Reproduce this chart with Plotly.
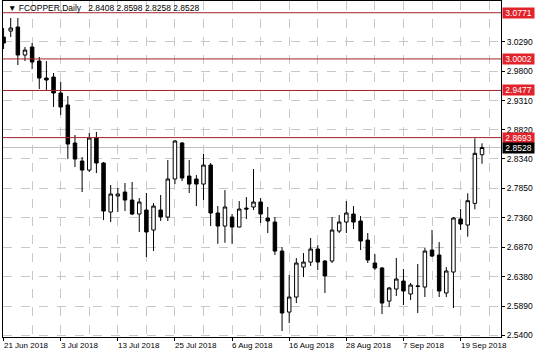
import plotly.graph_objects as go
import pandas as pd

# ---- data ----
dates = pd.bdate_range("2018-06-21", periods=68).strftime("%d %b %Y").tolist()

opens = [3.0366, 3.0466, 3.0533, 3.0067, 3.0200, 2.9967, 2.9684, 2.9701, 2.9435, 2.9235,
         2.8603, 2.8303, 2.8153, 2.8686, 2.8270, 2.7454, 2.7721, 2.7787, 2.7654, 2.7421,
         2.7488, 2.7155, 2.7488, 2.7371, 2.8004, 2.8603, 2.8053, 2.8004, 2.7920, 2.8236,
         2.7438, 2.7221, 2.7371, 2.7205, 2.7520, 2.7538, 2.7621, 2.7355, 2.7288, 2.6805,
         2.5790, 2.6040, 2.6539, 2.6622, 2.6839, 2.6639, 2.6639, 2.7138, 2.7288, 2.7421,
         2.7305, 2.6988, 2.6606, 2.6523, 2.5973, 2.6173, 2.6306, 2.6090, 2.6215, 2.6206,
         2.6822, 2.6739, 2.6107, 2.6456, 2.7338, 2.7238, 2.7599, 2.8408]
highs = [3.0516, 3.0683, 3.0683, 3.0200, 3.0267, 3.0034, 2.9967, 2.9768, 2.9618, 2.9385,
         2.8736, 2.8370, 2.8769, 2.8786, 2.8286, 2.7904, 2.7854, 2.7937, 2.7954, 2.7687,
         2.7771, 2.7604, 2.7737, 2.8320, 2.8653, 2.8619, 2.8320, 2.8070, 2.8419, 2.8270,
         2.7554, 2.7820, 2.7421, 2.7637, 2.7704, 2.8170, 2.7687, 2.7538, 2.7371, 2.6872,
         2.6406, 2.6689, 2.6772, 2.7022, 2.6905, 2.6656, 2.7371, 2.7404, 2.7637, 2.7554,
         2.7388, 2.7105, 2.6755, 2.6539, 2.6206, 2.6689, 2.6506, 2.6273, 2.6589, 2.6855,
         2.7155, 2.6955, 2.6539, 2.7371, 2.7504, 2.7766, 2.8681, 2.8598]
lows = [3.0167, 3.0366, 2.9901, 2.9967, 2.9834, 2.9501, 2.9485, 2.9202, 2.9069, 2.8336,
        2.8203, 2.7787, 2.8120, 2.8103, 2.7321, 2.7288, 2.7454, 2.7471, 2.7404, 2.7122,
        2.6706, 2.6805, 2.7305, 2.7305, 2.7920, 2.7970, 2.7771, 2.7554, 2.7654, 2.7221,
        2.6926, 2.6943, 2.6926, 2.7200, 2.7338, 2.7488, 2.7271, 2.7105, 2.6739, 2.5474,
        2.5607, 2.5940, 2.6373, 2.6556, 2.6489, 2.6107, 2.6606, 2.7105, 2.7105, 2.7172,
        2.6822, 2.6606, 2.6489, 2.5757, 2.5874, 2.6057, 2.5907, 2.5990, 2.5774, 2.6040,
        2.6706, 2.6040, 2.6040, 2.5857, 2.7155, 2.7044, 2.7500, 2.8258]
closes = [3.0266, 3.0516, 3.0067, 3.0150, 2.9950, 2.9684, 2.9651, 2.9435, 2.9202, 2.8586,
          2.8336, 2.8153, 2.8686, 2.8270, 2.7471, 2.7754, 2.7754, 2.7654, 2.7421, 2.7621,
          2.7122, 2.7554, 2.7371, 2.8004, 2.8636, 2.8020, 2.7920, 2.7920, 2.8236, 2.7438,
          2.7221, 2.7538, 2.7205, 2.7504, 2.7504, 2.7621, 2.7421, 2.7305, 2.6805, 2.5774,
          2.6040, 2.6606, 2.6622, 2.6839, 2.6622, 2.6390, 2.7155, 2.7288, 2.7438, 2.7288,
          2.6972, 2.6656, 2.6523, 2.5940, 2.6190, 2.6340, 2.6140, 2.6240, 2.6223, 2.6805,
          2.6722, 2.6140, 2.6473, 2.7355, 2.7255, 2.7643, 2.8431, 2.8528]

level_prices = [3.0771, 3.0002, 2.9477, 2.8693]
bid_price = 2.8528

ytick_vals = [3.0290, 2.9800, 2.9310, 2.8820, 2.8340, 2.7850, 2.7360, 2.6870, 2.6380, 2.5890, 2.5400]
ytick_text = ["3.0290", "2.9800", "2.9310", "2.8820", "2.8340", "2.7850", "2.7360", "2.6870", "2.6380", "2.5890", "2.5400"]
xtick_text = ["21 Jun 2018", "3 Jul 2018", "13 Jul 2018", "25 Jul 2018", "6 Aug 2018",
              "16 Aug 2018", "28 Aug 2018", "7 Sep 2018", "19 Sep 2018"]

title_text = "\u25bc FCOPPER,Daily&nbsp;&nbsp; 2.8408 2.8598 2.8258 2.8528"

# ---- figure ----
idx = list(range(len(dates)))
xtick_idx = [i for i in idx if i % 8 == 0]
minor_idx = [i for i in idx if i % 8 == 4] + [68]

FONT = "Liberation Sans, DejaVu Sans, sans-serif"

fig = go.Figure(go.Candlestick(
    x=idx, open=opens, high=highs, low=lows, close=closes,
    increasing=dict(line=dict(color="black", width=1), fillcolor="white"),
    decreasing=dict(line=dict(color="black", width=1), fillcolor="black"),
    whiskerwidth=0, hoverinfo="skip",
))

for p in level_prices:
    fig.add_shape(type="line", xref="paper", x0=0, x1=1, y0=p, y1=p,
                  line=dict(color="#a3222c", width=1), layer="above")
    fig.add_annotation(xref="paper", x=1, y=p, yref="y", xanchor="left", yanchor="middle",
                       text=f"{p:.4f}", showarrow=False, xshift=1,
                       font=dict(family=FONT, size=8.5, color="white"),
                       bgcolor="#e2232b", borderpad=0, width=31, height=10)

fig.add_shape(type="line", xref="paper", x0=0, x1=1, y0=bid_price, y1=bid_price,
              line=dict(color="#c0c0c0", width=1), layer="below")
fig.add_annotation(xref="paper", x=1, y=bid_price, yref="y", xanchor="left", yanchor="middle",
                   text=f"{bid_price:.4f}", showarrow=False, xshift=1,
                   font=dict(family=FONT, size=8.5, color="white"),
                   bgcolor="black", borderpad=0, width=31, height=10)

for i, t in zip(xtick_idx, xtick_text):
    fig.add_annotation(x=i, xref="x", y=0, yref="paper", xanchor="left", yanchor="top",
                       text=t, showarrow=False, yshift=-2, xshift=-2,
                       font=dict(family=FONT, size=8, color="black"))

fig.add_annotation(xref="paper", yref="paper", x=0, y=1, xanchor="left", yanchor="top",
                   text=title_text, showarrow=False, xshift=3, yshift=0,
                   font=dict(family=FONT, size=8.5, color="black"))

fig.update_layout(
    width=536, height=357,
    margin=dict(l=3, r=35, t=1, b=20),
    paper_bgcolor="white", plot_bgcolor="white",
    showlegend=False,
    font=dict(family=FONT, size=8.5, color="black"),
    xaxis=dict(
        range=[-0.08, 69.66], rangeslider=dict(visible=False),
        tickvals=xtick_idx, showticklabels=False,
        ticks="outside", ticklen=3, tickcolor="black",
        showgrid=True, gridcolor="#c8c8c8", griddash="dash", gridwidth=1,
        minor=dict(tickvals=minor_idx, showgrid=True, gridcolor="#c8c8c8", griddash="dash", ticks=""),
        showline=True, linecolor="black", linewidth=1, mirror=True, zeroline=False,
    ),
    yaxis=dict(
        range=[2.5375, 3.0966], side="right",
        tickvals=ytick_vals, ticktext=ytick_text,
        ticks="outside", ticklen=3, tickcolor="black",
        tickfont=dict(family=FONT, size=8.5, color="black"),
        showgrid=True, gridcolor="#c8c8c8", griddash="dash", gridwidth=1,
        showline=True, linecolor="black", linewidth=1, mirror=True, zeroline=False,
    ),
)

fig.write_html("out.html")
